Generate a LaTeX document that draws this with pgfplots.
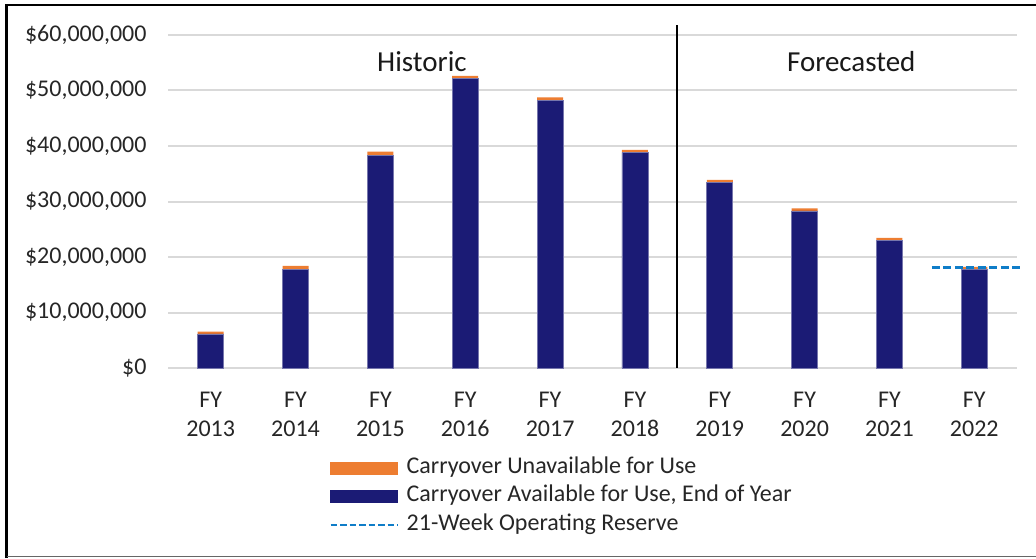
\documentclass[border=0pt]{standalone}
\usepackage{fontspec}
\setmainfont{Carlito}
\usepackage{pgfplots}
\pgfplotsset{compat=1.18}
\definecolor{navy}{RGB}{27,27,117}
\definecolor{orng}{RGB}{237,125,49}
\definecolor{resv}{RGB}{15,125,200}
\definecolor{gridc}{RGB}{217,217,217}
\pgfplotsset{base/.style={
  at={(168.3pt,189.7pt)}, anchor=south west,
  scale only axis, width=848.4pt, height=333.6pt,
  xmin=-0.5, xmax=9.5, ymin=0, ymax=60e6,
  clip=false, scaled y ticks=false,
  axis line style={draw=none},
  major tick length=0pt,
}}
\begin{document}
\begin{tikzpicture}[x=1pt,y=1pt]
\begin{axis}[base,
  ymajorgrids, grid style={gridc, line width=2pt},
  ytick={0,10e6,20e6,30e6,40e6,50e6,60e6},
  yticklabels={\$0,{\$10,000,000},{\$20,000,000},{\$30,000,000},{\$40,000,000},{\$50,000,000},{\$60,000,000}},
  yticklabel style={anchor=east, inner sep=0pt, xshift=-21.6pt, font=\fontsize{24}{28}\selectfont, text=black!85},
  xtick={0,...,9},
  xticklabels={{FY\\2013},{FY\\2014},{FY\\2015},{FY\\2016},{FY\\2017},{FY\\2018},{FY\\2019},{FY\\2020},{FY\\2021},{FY\\2022}},
  xticklabel style={align=center, anchor=north, inner sep=0pt, yshift=-24pt, font=\fontsize{24}{28.3}\selectfont, text=black!85},
  ybar stacked, bar width=26pt,
]
\addplot[fill=navy, draw=navy!60!white, line width=0.6pt] coordinates {
(0,6.17e6) (1,17.8e6) (2,38.3e6) (3,52.1e6) (4,48.2e6)
(5,38.8e6) (6,33.4e6) (7,28.3e6) (8,23.0e6) (9,17.8e6)};
\addplot[fill=orng, draw=none] coordinates {
(0,0.42e6) (1,0.6e6) (2,0.65e6) (3,0.5e6) (4,0.52e6)
(5,0.5e6) (6,0.5e6) (7,0.45e6) (8,0.47e6) (9,0.42e6)};
\end{axis}
\begin{axis}[base,
  xtick=\empty, ytick=\empty,
  legend style={at={(0.1862,-0.261)}, anchor=north west, draw=none, fill=none,
    font=\fontsize{24}{28}\selectfont, text=black!85, row sep=7.4pt, column sep=8pt,
    nodes={inner sep=0pt, text height=16pt, text depth=5pt}},
  legend cell align=left,
]
\addplot[sharp plot, black, line width=2pt, forget plot] coordinates {(5.5,0.06e6) (5.5,61.7e6)};
\addplot[sharp plot, resv, line width=3pt, dash pattern=on 8pt off 3.5pt, forget plot] coordinates {(8.5,18.2e6) (9.55,18.2e6)};
\addlegendimage{legend image code/.code={\fill[orng] (0pt,-6pt) rectangle (67pt,6pt);}}
\addlegendentry{Carryover Unavailable for Use}
\addlegendimage{legend image code/.code={\fill[navy] (0pt,-6pt) rectangle (67pt,6pt);}}
\addlegendentry{Carryover Available for Use, End of Year}
\addlegendimage{legend image code/.code={\draw[resv, line width=2.2pt, dash pattern=on 6.5pt off 3pt] (0pt,0pt) -- (67pt,0pt);}}
\addlegendentry{21-Week Operating Reserve}
\node[font=\fontsize{29}{32}\selectfont, text=black!90] at (axis cs:2.49,55.1e6) {Historic};
\node[font=\fontsize{29}{32}\selectfont, text=black!90] at (axis cs:7.55,55.1e6) {Forecasted};
\end{axis}
\draw[black, line width=2.5pt] (6.5,0) -- (6.5,553) -- (1036,553);
\draw[black!60, line width=1.5pt] (6.5,1.3) -- (1036,1.3);
\pgfresetboundingbox
\path (0,0) rectangle (1036,558);
\end{tikzpicture}
\end{document}
